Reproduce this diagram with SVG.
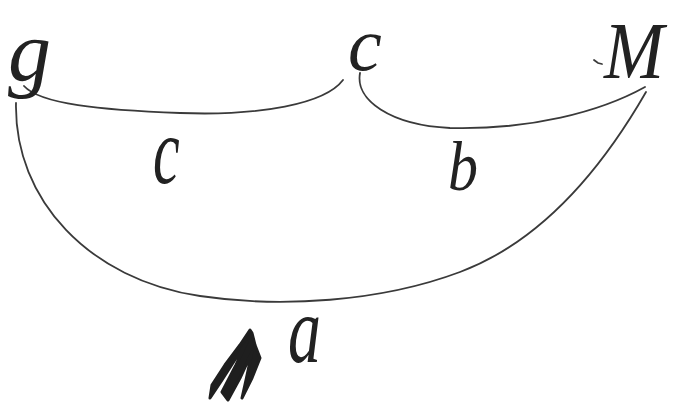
<svg xmlns="http://www.w3.org/2000/svg" width="686" height="405" viewBox="0 0 686 405">
<style>
.edge{fill:none;stroke:#3a3a3a;stroke-width:1.8;stroke-linecap:round}
.hand{font-family:"Liberation Serif",serif;font-style:italic;fill:#222}
</style>
<rect width="686" height="405" fill="#fff"/>
<g id="connectors">
<path class="edge" d="M 24 86 C 40 104, 100 110, 180 113 C 260 116, 325 104, 343 80"/>
<path class="edge" d="M 360 73 C 355 100, 390 125, 450 128 C 530 130, 600 112, 645 87"/>
<path class="edge" d="M 16 103 C 14 200, 90 280, 200 296 C 280 308, 380 302, 460 272 C 540 242, 600 172, 646 92"/>
</g>
<g id="node-g"><text class="hand" x="8" y="80" font-size="86">g</text></g>
<g id="node-c"><text class="hand" x="348" y="70" font-size="76">c</text></g>
<g id="node-M"><path class="edge" d="M 594 60 L 598 63 L 602 64"/><text class="hand" transform="translate(604,78) scale(1.2,1.35)" font-size="60">M</text></g>
<g id="label-c"><text class="hand" transform="translate(153,183) scale(1,1.6)" font-size="60">c</text></g>
<g id="label-b"><text class="hand" transform="translate(448,190) scale(1.2,1.4)" font-size="50">b</text></g>
<g id="label-a"><text class="hand" transform="translate(288,362) scale(1.1,1.6)" font-size="60">a</text></g>
<g id="scribble"><path d="M 250 330 L 240 345 L 225 365 L 212 385 L 210 398 L 222 380 L 238 355 L 247 342 L 236 365 L 222 392 L 228 400 L 240 378 L 252 352 L 246 380 L 242 398 L 252 378 L 260 358 L 255 345 L 252 333 Z" fill="#1f1f1f" stroke="#1f1f1f" stroke-width="3" stroke-linejoin="round"/></g>
</svg>
